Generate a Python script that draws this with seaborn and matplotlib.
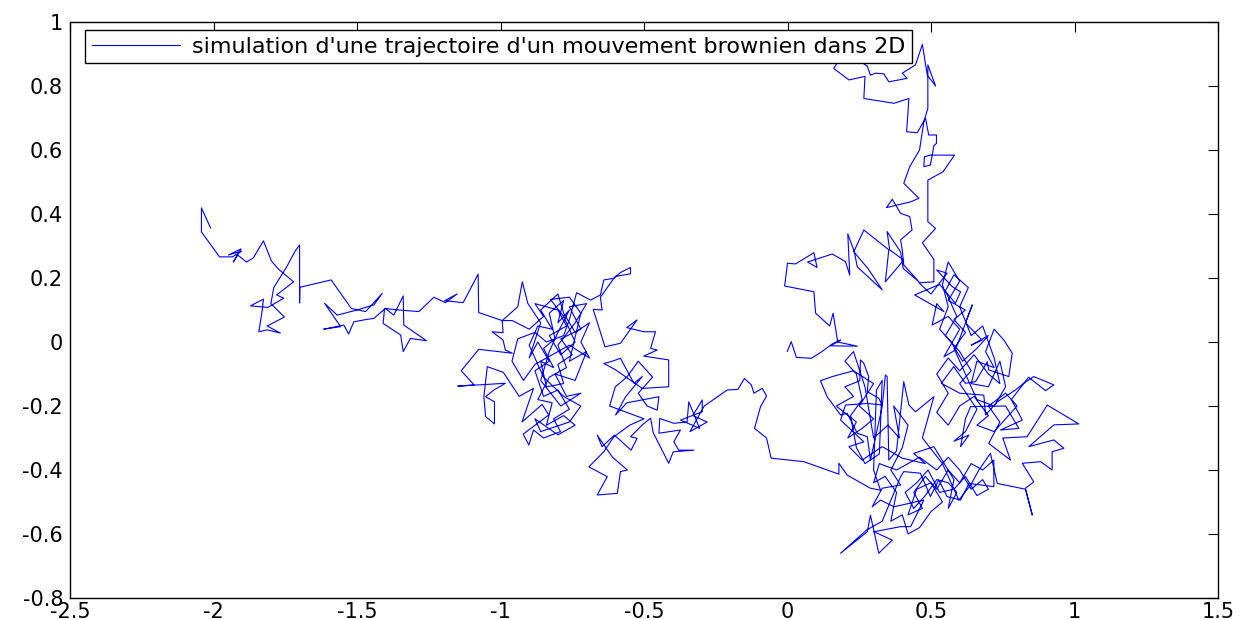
import matplotlib
matplotlib.use("Agg")
import matplotlib.pyplot as plt
import seaborn as sns
import pandas as pd

# ---- data, path segments in drawing order ----
seg_trail = [(-2.010,0.356),(-2.042,0.419),(-2.042,0.344),(-1.979,0.266),(-1.934,0.266),(-1.902,0.284),(-1.948,0.272),(-1.904,0.291),(-1.931,0.250),(-1.916,0.272),(-1.885,0.250),(-1.861,0.263),(-1.826,0.316),(-1.798,0.253),(-1.774,0.228),(-1.721,0.188),(-1.780,0.147),(-1.755,0.137),(-1.811,0.108),(-1.871,0.113),(-1.826,0.134),(-1.830,0.100),(-1.842,0.032),(-1.813,0.038),(-1.767,0.028),(-1.813,0.050),(-1.753,0.078),(-1.800,0.120),(-1.790,0.170),(-1.745,0.235),(-1.715,0.285),(-1.700,0.303),(-1.700,0.122),(-1.699,0.171),(-1.590,0.194),(-1.520,0.105),(-1.470,0.095),(-1.412,0.152),(-1.441,0.116),(-1.500,0.100),(-1.569,0.084),(-1.613,0.121),(-1.557,0.048),(-1.616,0.040),(-1.546,0.053),(-1.529,0.025),(-1.511,0.063),(-1.470,0.070),(-1.441,0.074),(-1.401,0.105),(-1.372,0.084),(-1.339,0.144),(-1.337,0.053),(-1.258,0.004),(-1.314,0.011),(-1.339,-0.030),(-1.348,0.022),(-1.409,0.058),(-1.404,0.105),(-1.354,0.100),(-1.284,0.095),(-1.232,0.140),(-1.192,0.123),(-1.151,0.150),(-1.195,0.129),(-1.130,0.123),(-1.078,0.212),(-1.076,0.092)]

seg_amas_ouest = [(-0.994,0.067),(-0.991,0.029),(-1.029,0.032),(-0.991,0.006),(-0.983,-0.025),(-0.959,-0.035),(-1.076,-0.023),(-1.137,-0.090),(-1.092,-0.134),(-1.149,-0.138),(-0.983,-0.129),(-1.023,-0.150),(-1.052,-0.171),(-1.021,-0.187),(-1.021,-0.256),(-1.052,-0.233),(-1.058,-0.171),(-1.046,-0.077),(-0.990,-0.095),(-0.935,-0.170),(-0.885,-0.145),(-0.925,-0.250),(-0.855,-0.195),(-0.832,-0.228),(-0.921,-0.288),(-0.901,-0.322),(-0.885,-0.275),(-0.850,-0.300),(-0.791,-0.280),(-0.815,-0.240),(-0.760,-0.210),(-0.800,-0.150),(-0.850,-0.170),(-0.880,-0.090),(-0.830,-0.060),(-0.870,0.000),(-0.900,-0.050),(-0.860,0.060),(-0.905,0.121),(-0.924,0.188),(-0.940,0.110),(-0.994,0.067),(-0.959,0.067),(-0.900,0.040),(-0.850,0.080),(-0.880,0.120),(-0.800,0.100),(-0.770,0.050),(-0.830,0.020),(-0.790,-0.040),(-0.740,0.000),(-0.780,0.080),(-0.826,0.133),(-0.760,0.140),(-0.720,0.090),(-0.760,-0.060),(-0.700,-0.030),(-0.740,-0.120),(-0.810,-0.100),(-0.770,-0.170),(-0.720,-0.160),(-0.790,-0.200),(-0.860,-0.120),(-0.830,-0.030),(-0.800,0.030)]

seg_amas_dense = [(-0.760,0.100),(-0.800,0.060),(-0.780,0.130),(-0.830,0.090),(-0.810,0.010),(-0.850,-0.020),(-0.815,-0.080),(-0.860,-0.060),(-0.840,-0.140),(-0.780,-0.130),(-0.800,-0.070),(-0.750,-0.040),(-0.790,0.010),(-0.720,0.040),(-0.760,0.110),(-0.700,0.120),(-0.740,0.060),(-0.800,-0.010),(-0.770,-0.080),(-0.830,-0.110),(-0.870,-0.180),(-0.820,-0.190),(-0.840,-0.260),(-0.780,-0.230),(-0.740,-0.260),(-0.800,-0.290),(-0.880,-0.240),(-0.860,-0.280),(-0.760,-0.250),(-0.720,-0.200),(-0.780,-0.170),(-0.850,-0.110),(-0.900,-0.010),(-0.870,0.050),(-0.820,0.040),(-0.860,0.100),(-0.800,0.150),(-0.780,0.090),(-0.740,0.030),(-0.690,0.060),(-0.720,0.000),(-0.690,-0.050),(-0.760,-0.010),(-0.820,-0.040),(-0.880,-0.070),(-0.920,-0.120),(-0.960,-0.060),(-0.940,0.010),(-0.880,0.030),(-0.840,0.000),(-0.780,0.020),(-0.760,0.070),(-0.735,0.154)]

seg_centre = [(-0.686,0.131),(-0.652,0.147),(-0.640,0.194),(-0.605,0.199),(-0.582,0.217),(-0.547,0.233),(-0.547,0.213),(-0.600,0.205),(-0.652,0.140),(-0.646,0.100),(-0.677,0.102),(-0.669,0.079),(-0.636,-0.015),(-0.582,-0.004),(-0.524,0.069),(-0.560,0.045),(-0.501,0.032),(-0.460,0.032),(-0.477,-0.020),(-0.454,-0.025),(-0.501,-0.044),(-0.414,-0.056),(-0.414,-0.140),(-0.506,-0.145),(-0.599,-0.087),(-0.640,-0.067),(-0.617,-0.062),(-0.582,-0.051),(-0.535,-0.129),(-0.506,-0.108),(-0.564,-0.171),(-0.599,-0.228),(-0.560,-0.190),(-0.448,-0.171),(-0.454,-0.213),(-0.489,-0.200),(-0.520,-0.160),(-0.470,-0.110),(-0.520,-0.060),(-0.560,-0.110),(-0.600,-0.140),(-0.620,-0.200),(-0.560,-0.220),(-0.500,-0.240),(-0.550,-0.260),(-0.605,-0.296),(-0.640,-0.343),(-0.692,-0.390),(-0.628,-0.421),(-0.663,-0.478),(-0.593,-0.473),(-0.582,-0.405),(-0.558,-0.400),(-0.610,-0.360),(-0.663,-0.291),(-0.646,-0.327),(-0.603,-0.291),(-0.545,-0.338),(-0.524,-0.301),(-0.547,-0.296)]

seg_milieu = [(-0.506,-0.259),(-0.477,-0.238),(-0.468,-0.283),(-0.414,-0.379),(-0.398,-0.343),(-0.326,-0.338),(-0.379,-0.338),(-0.396,-0.312),(-0.373,-0.275),(-0.448,-0.285),(-0.445,-0.239),(-0.396,-0.254),(-0.350,-0.250),(-0.344,-0.187),(-0.306,-0.270),(-0.373,-0.244),(-0.297,-0.218),(-0.297,-0.181),(-0.330,-0.230),(-0.280,-0.250),(-0.340,-0.280),(-0.290,-0.200),(-0.210,-0.150),(-0.173,-0.148),(-0.150,-0.114),(-0.126,-0.134),(-0.117,-0.160),(-0.088,-0.145),(-0.073,-0.169),(-0.094,-0.202),(-0.115,-0.270),(-0.073,-0.300),(-0.057,-0.363),(0.057,-0.374),(0.179,-0.413),(0.179,-0.379),(0.208,-0.416),(0.289,-0.457),(0.324,-0.463)]

seg_sud_ouest = [(0.300,-0.400),(0.310,-0.150),(0.330,-0.120),(0.320,-0.350),(0.270,-0.380),(0.240,-0.330),(0.220,-0.230),(0.260,-0.180),(0.240,-0.100),(0.200,-0.060),(0.230,-0.030),(0.270,-0.140),(0.300,-0.300),(0.350,-0.260),(0.390,-0.300),(0.370,-0.200),(0.420,-0.260),(0.400,-0.330),(0.360,-0.400)]

seg_sud = [(0.394,-0.447),(0.330,-0.457),(0.295,-0.515),(0.324,-0.494),(0.371,-0.515),(0.475,-0.494),(0.429,-0.577),(0.394,-0.577),(0.301,-0.593),(0.365,-0.619),(0.318,-0.660),(0.289,-0.541),(0.278,-0.593),(0.185,-0.660),(0.275,-0.588),(0.330,-0.560),(0.394,-0.421),(0.405,-0.405),(0.463,-0.410),(0.498,-0.483),(0.527,-0.431),(0.556,-0.483),(0.603,-0.494),(0.632,-0.442),(0.719,-0.452),(0.719,-0.369),(0.680,-0.400),(0.640,-0.380),(0.600,-0.440),(0.560,-0.400),(0.520,-0.460),(0.480,-0.420),(0.440,-0.470),(0.470,-0.520),(0.420,-0.540),(0.450,-0.460),(0.500,-0.440),(0.540,-0.500),(0.500,-0.530),(0.460,-0.580),(0.420,-0.600),(0.400,-0.540),(0.360,-0.560),(0.380,-0.470),(0.340,-0.420),(0.300,-0.440),(0.320,-0.380),(0.380,-0.400),(0.420,-0.380),(0.460,-0.360),(0.520,-0.400),(0.560,-0.360),(0.600,-0.400),(0.640,-0.460),(0.680,-0.430),(0.700,-0.460),(0.660,-0.480),(0.620,-0.420),(0.580,-0.460),(0.530,-0.470),(0.490,-0.400),(0.450,-0.440),(0.410,-0.470),(0.440,-0.520),(0.480,-0.480),(0.520,-0.430),(0.560,-0.440),(0.590,-0.470),(0.560,-0.520),(0.580,-0.430),(0.510,-0.327),(0.440,-0.348),(0.480,-0.380),(0.400,-0.363),(0.330,-0.327),(0.260,-0.369),(0.214,-0.327),(0.266,-0.312),(0.185,-0.244),(0.202,-0.197),(0.278,-0.192),(0.330,-0.197),(0.318,-0.176),(0.278,-0.155),(0.283,-0.108),(0.266,-0.067),(0.254,-0.056),(0.252,-0.121),(0.200,-0.140),(0.230,-0.170),(0.170,-0.200),(0.240,-0.250),(0.210,-0.300),(0.260,-0.270),(0.300,-0.240),(0.250,-0.200),(0.300,-0.130),(0.230,-0.090),(0.156,-0.108),(0.115,-0.121),(0.138,-0.171),(0.185,-0.228),(0.208,-0.223),(0.243,-0.285),(0.278,-0.296),(0.289,-0.369),(0.330,-0.202),(0.341,-0.103),(0.347,-0.108),(0.353,-0.369),(0.380,-0.340),(0.405,-0.124),(0.423,-0.197),(0.446,-0.218),(0.510,-0.171),(0.470,-0.300),(0.540,-0.380),(0.597,-0.494)]

seg_lobe_est = [(0.638,-0.447),(0.667,-0.400),(0.707,-0.348),(0.731,-0.442),(0.829,-0.460),(0.853,-0.541),(0.829,-0.457),(0.858,-0.437),(0.818,-0.379),(0.882,-0.374),(0.922,-0.400),(0.922,-0.343),(0.963,-0.332),(0.928,-0.306),(0.841,-0.327),(0.928,-0.259),(1.015,-0.256),(0.905,-0.197),(0.835,-0.296),(0.750,-0.300),(0.777,-0.369),(0.701,-0.317)]

seg_est_dense = [(0.740,-0.250),(0.700,-0.200),(0.760,-0.160),(0.800,-0.200),(0.760,-0.240),(0.720,-0.280),(0.660,-0.260),(0.700,-0.230),(0.650,-0.170),(0.600,-0.200),(0.560,-0.260),(0.520,-0.220),(0.560,-0.160),(0.520,-0.100),(0.560,-0.050),(0.600,-0.090),(0.650,-0.040),(0.700,-0.100),(0.740,-0.130),(0.720,-0.050),(0.680,0.050),(0.640,0.020),(0.600,0.110),(0.630,0.170),(0.580,0.210),(0.550,0.160),(0.590,0.080),(0.550,0.020),(0.600,-0.030),(0.640,-0.090),(0.600,-0.130),(0.660,-0.210),(0.620,-0.280),(0.580,-0.310)]

seg_est = [(0.632,-0.291),(0.603,-0.327),(0.620,-0.240),(0.638,-0.202),(0.760,-0.200),(0.806,-0.270),(0.742,-0.275),(0.818,-0.244),(0.780,-0.180),(0.840,-0.110),(0.899,-0.152),(0.928,-0.134),(0.858,-0.108),(0.823,-0.129),(0.794,-0.150),(0.731,-0.187),(0.690,-0.228),(0.684,-0.166),(0.600,-0.160),(0.536,-0.129),(0.579,-0.077),(0.620,-0.129),(0.655,-0.124),(0.696,-0.062),(0.701,-0.087),(0.771,-0.108),(0.783,-0.035),(0.754,0.006),(0.720,0.040),(0.690,-0.030),(0.720,-0.080),(0.660,-0.060),(0.640,-0.130),(0.700,-0.140),(0.740,-0.060),(0.760,-0.140),(0.720,-0.200),(0.660,-0.180),(0.620,-0.100),(0.580,-0.020),(0.620,0.030),(0.580,0.070),(0.620,0.100),(0.560,0.130),(0.600,0.190),(0.560,0.250),(0.540,0.180),(0.560,0.110),(0.530,0.040),(0.570,0.000),(0.610,-0.060),(0.660,-0.020),(0.700,0.020),(0.640,-0.010),(0.678,0.006),(0.620,0.060),(0.644,0.116),(0.585,-0.025),(0.545,-0.046),(0.600,0.040),(0.560,0.080),(0.504,0.053),(0.520,0.120),(0.545,0.095),(0.443,0.147),(0.530,0.180),(0.585,0.121),(0.603,0.157),(0.574,0.173),(0.520,0.225),(0.556,0.215),(0.500,0.150),(0.458,0.185),(0.510,0.188),(0.510,0.258),(0.470,0.310),(0.516,0.355),(0.489,0.376),(0.489,0.506)]

seg_colonne = [(0.542,0.532),(0.582,0.584),(0.498,0.584),(0.477,0.579),(0.475,0.548),(0.498,0.553),(0.510,0.613),(0.519,0.621),(0.519,0.647),(0.492,0.647),(0.481,0.699),(0.452,0.654),(0.415,0.657),(0.423,0.761),(0.371,0.746),(0.266,0.761),(0.270,0.830),(0.214,0.819),(0.161,0.855),(0.200,0.910),(0.278,0.862),(0.289,0.834),(0.307,0.840),(0.336,0.838),(0.353,0.813),(0.417,0.824),(0.400,0.840),(0.446,0.866),(0.470,0.930),(0.487,0.834),(0.516,0.800),(0.489,0.866),(0.489,0.730),(0.475,0.688),(0.460,0.600),(0.426,0.548),(0.405,0.496),(0.458,0.449),(0.429,0.438),(0.345,0.420),(0.365,0.446),(0.394,0.402),(0.426,0.392),(0.434,0.350),(0.394,0.319),(0.400,0.288),(0.405,0.241),(0.458,0.188),(0.403,0.230),(0.394,0.282),(0.347,0.345),(0.356,0.288),(0.405,0.256),(0.341,0.188),(0.353,0.288),(0.266,0.350),(0.231,0.282)]

seg_origine = [(0.280,0.230),(0.330,0.163),(0.243,0.235),(0.233,0.282),(0.210,0.338),(0.217,0.209),(0.202,0.251),(0.156,0.275),(0.070,0.250),(0.103,0.233),(0.092,0.279),(0.028,0.244),(0.000,0.246),(-0.010,0.175),(0.092,0.157),(0.098,0.090),(0.147,0.050),(0.159,0.090),(0.175,0.000),(0.243,-0.013),(0.150,-0.012),(0.185,0.006),(0.156,-0.006),(0.120,-0.030),(0.083,-0.051),(0.031,-0.048),(0.013,0.001),(-0.001,-0.030)]

x_ticks = [-2.5, -2, -1.5, -1, -0.5, 0, 0.5, 1, 1.5]
x_tick_labels = ["-2.5", "-2", "-1.5", "-1", "-0.5", "0", "0.5", "1", "1.5"]
y_ticks = [-0.8, -0.6, -0.4, -0.2, 0, 0.2, 0.4, 0.6, 0.8, 1]
y_tick_labels = ["-0.8", "-0.6", "-0.4", "-0.2", "0", "0.2", "0.4", "0.6", "0.8", "1"]
legend_label = "simulation d'une trajectoire d'un mouvement brownien dans 2D"

segments = [seg_trail, seg_amas_ouest, seg_amas_dense, seg_centre, seg_milieu,
            seg_sud_ouest, seg_sud, seg_lobe_est, seg_est_dense, seg_est,
            seg_colonne, seg_origine]
points = [p for seg in segments for p in seg]
df = pd.DataFrame(points, columns=["x", "y"])

# ---- style ----
sns.set_style("white")
plt.rcParams["font.family"] = ["DejaVu Sans"]
plt.rcParams["text.color"] = "black"
plt.rcParams["xtick.direction"] = "in"
plt.rcParams["ytick.direction"] = "in"

fig = plt.figure(figsize=(12.42, 6.2), dpi=100)
ax = fig.add_axes([70 / 1242, 22 / 620, 1148 / 1242, 576 / 620])

sns.lineplot(data=df, x="x", y="y", sort=False, estimator=None,
             color=(0, 0, 1), linewidth=0.8, label=legend_label, ax=ax)

ax.set_xlim(-2.5, 1.5)
ax.set_ylim(-0.8, 1.0)
ax.set_xticks(x_ticks)
ax.set_xticklabels(x_tick_labels)
ax.set_yticks(y_ticks)
ax.set_yticklabels(y_tick_labels)
ax.set_xlabel("")
ax.set_ylabel("")
ax.tick_params(axis="both", which="both", direction="in", length=7, width=0.8,
               top=True, right=True, labelsize=15, colors="black", pad=3)
ax.tick_params(axis="y", pad=5)
for s in ax.spines.values():
    s.set_visible(True)
    s.set_color("black")
    s.set_linewidth(1.0)

leg = ax.legend(loc="upper left", bbox_to_anchor=(0.013, 0.986), borderaxespad=0,
                fontsize=16, handlelength=4.0, handletextpad=0.5, borderpad=0.3,
                fancybox=False, framealpha=1, edgecolor="black", labelcolor="black")
leg.get_frame().set_linewidth(1.0)
leg.get_frame().set_facecolor("white")
leg.set_zorder(5)

fig.savefig("out.png", dpi=100, facecolor="white")
